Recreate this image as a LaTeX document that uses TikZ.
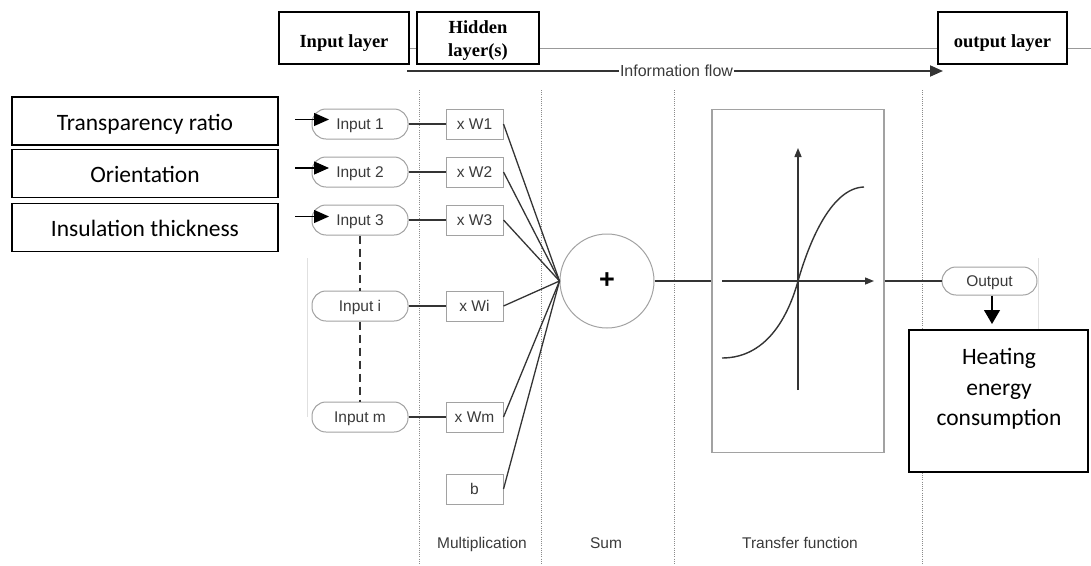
\documentclass[tikz,border=0pt]{standalone}
\usepackage{fontspec}
\setmainfont{Liberation Serif}
\newfontfamily\arialf{Liberation Sans}
\newfontfamily\calf{Carlito}
\usetikzlibrary{arrows.meta}
\definecolor{ink}{HTML}{343434}
\definecolor{txt}{HTML}{3A3A3A}
\definecolor{rim}{HTML}{A2A2A2}
\definecolor{sepc}{HTML}{8A8A8A}
\begin{document}
\begin{tikzpicture}[x=1pt,y=-1pt,
  hdr/.style={draw=black,line width=1.6pt,fill=white,inner sep=0pt,
    minimum height=52pt,text height=18pt,text depth=0pt,
    font=\bfseries\fontsize{18.5}{22}\selectfont},
  feat/.style={draw=black,line width=1.3pt,fill=white,inner sep=0pt,
    minimum width=266pt,minimum height=48pt,text height=18pt,text depth=0pt,
    font=\calf\fontsize{23.5}{30.5}\selectfont},
  pill/.style={draw=rim,line width=1pt,fill=white,rounded corners=14pt,
    minimum width=96pt,minimum height=30pt,inner sep=0pt,text=txt,
    text height=11pt,text depth=0pt,
    font=\arialf\fontsize{15.5}{18}\selectfont},
  wbox/.style={draw=rim,line width=1pt,fill=white,minimum width=57pt,
    minimum height=30pt,inner sep=0pt,text=txt,text height=11pt,text depth=0pt,
    font=\arialf\fontsize{15.5}{18}\selectfont},
  captext/.style={text=txt,inner sep=1pt,font=\arialf\fontsize{15.5}{18}\selectfont},
  wire/.style={draw=ink,line width=1.3pt},
  sepline/.style={draw=sepc,line width=0.9pt,dash pattern=on 1pt off 1.2pt},
  gapline/.style={draw=ink,line width=2pt,dash pattern=on 8pt off 5pt},
  faint/.style={draw=black!12,line width=1pt},
  feedtip/.style={-{Triangle[length=15pt,width=13pt]},line width=1.2pt,draw=black},
]
\useasboundingbox (0,0) rectangle (1091,565);

% header rule and layer titles
\draw[draw=black!40,line width=0.9pt] (279,48) -- (1091,48);
\node[hdr,minimum width=130pt] (hin)  at (344,38)    {Input layer};
\node[hdr,minimum width=122pt] (hhid) at (478,38)    {};
\node[align=center,inner sep=0pt,font=\bfseries\fontsize{18.5}{23}\selectfont]
  (hhidtxt) at (478,41) {Hidden\\layer(s)};
\node[hdr,minimum width=129pt] (hout) at (1002.5,38) {output layer};

% information flow arrow
\coordinate (fs) at (407,71);
\coordinate (fe) at (943,71);
\node[captext,text height=11.5pt,text depth=0pt,font=\arialf\fontsize{16}{18}\selectfont]
  (flow) at (676.5,70.5) {Information flow};
\draw[draw=ink,line width=1.8pt] (fs) -- (fs -| flow.west);
\draw[draw=ink,line width=1.8pt,-{Triangle[length=13pt,width=11pt]}] (fe -| flow.east) -- (fe);

% column separators
\foreach \x/\n in {419/a,541/b,674/c,922/d}{
  \coordinate (s\n t) at (\x,90);
  \coordinate (s\n b) at (\x,565);
  \draw[sepline] (s\n t) -- (s\n b);
}

% faint scan edges
\draw[faint] (307,258) -- (307,417);
\draw[faint] (1038,258) -- (1038,330);

% feature boxes
\node[feat] (f1) at (145,121)   {Transparency ratio};
\node[feat] (f2) at (145,173.5) {Orientation};
\node[feat] (f3) at (145,227.5) {Insulation thickness};

% inputs
\node[pill] (i1) at (360,124) {Input 1};
\node[pill] (i2) at (360,172) {Input 2};
\node[pill] (i3) at (360,220) {Input 3};
\node[pill] (ii) at (360,306) {Input i};
\node[pill] (im) at (360,417) {Input m};

\draw[gapline] (i3.south) -- (ii.north);
\draw[gapline] (ii.south) -- (im.north);

% feature arrows into the inputs
\foreach \k/\y in {1/119.5,2/168,3/216.5}{
  \coordinate (p\k s) at (295,\y);
  \coordinate (p\k e) at (329,\y);
  \draw[feedtip] (p\k s) -- (p\k e);
}

% weights
\node[wbox] (w1) at (474.5,124) {x W1};
\node[wbox] (w2) at (474.5,172) {x W2};
\node[wbox] (w3) at (474.5,220) {x W3};
\node[wbox] (wi) at (474.5,306) {x Wi};
\node[wbox] (wm) at (474.5,417) {x Wm};
\node[wbox] (wb) at (474.5,489) {b};

% summation
\node[circle,draw=rim,line width=1pt,fill=white,minimum size=94pt,inner sep=0pt,
  text=black,font=\arialf\bfseries\fontsize{27}{28}\selectfont] (sum) at (607,281) {+};

\foreach \a/\b in {i1/w1,i2/w2,i3/w3,ii/wi,im/wm}
  \draw[wire] (\a.east) -- (\b.west);
\foreach \b in {w1,w2,w3,wi,wm,wb}
  \draw[wire] (\b.east) -- (sum.west);

% transfer function
\node[draw=rim,line width=1.3pt,minimum width=172pt,minimum height=343pt,inner sep=0pt]
  (tf) at (798,281) {};
\draw[wire] (sum.east) -- (tf.west);
\draw[draw=ink,line width=1.4pt,-{Triangle[length=9pt,width=7pt]}] (722,281) -- (874,281);
\draw[draw=ink,line width=1.4pt,-{Triangle[length=9pt,width=7pt]}] (798,390) -- (798,148);
\draw[draw=ink,line width=1.4pt]
  (722,358) .. controls (770,358) and (790,310) .. (798,281)
            .. controls (808,246) and (830,188) .. (864,187);

% output
\node[pill,minimum width=95pt,minimum height=28pt] (out) at (989.5,281) {Output};
\draw[wire] (tf.east) -- (out.west);

\node[draw=black,line width=1.3pt,fill=white,minimum width=179pt,minimum height=142pt,
  inner sep=0pt] (heat) at (998.5,401) {};
\node[align=center,inner sep=0pt,font=\calf\fontsize{23.5}{30.5}\selectfont]
  (heattxt) at (999,389) {Heating\\energy\\consumption};
\coordinate (ot) at (992,324);
\draw[draw=black,line width=1.2pt,-{Triangle[length=14pt,width=16pt]}] (out.south -| ot) -- (ot);

% column captions
\node[captext,anchor=base] (cmul) at (482,548) {Multiplication};
\node[captext,anchor=base] (csum) at (606,548) {Sum};
\node[captext,anchor=base] (ctf)  at (800,548) {Transfer function};
\end{tikzpicture}
\end{document}
